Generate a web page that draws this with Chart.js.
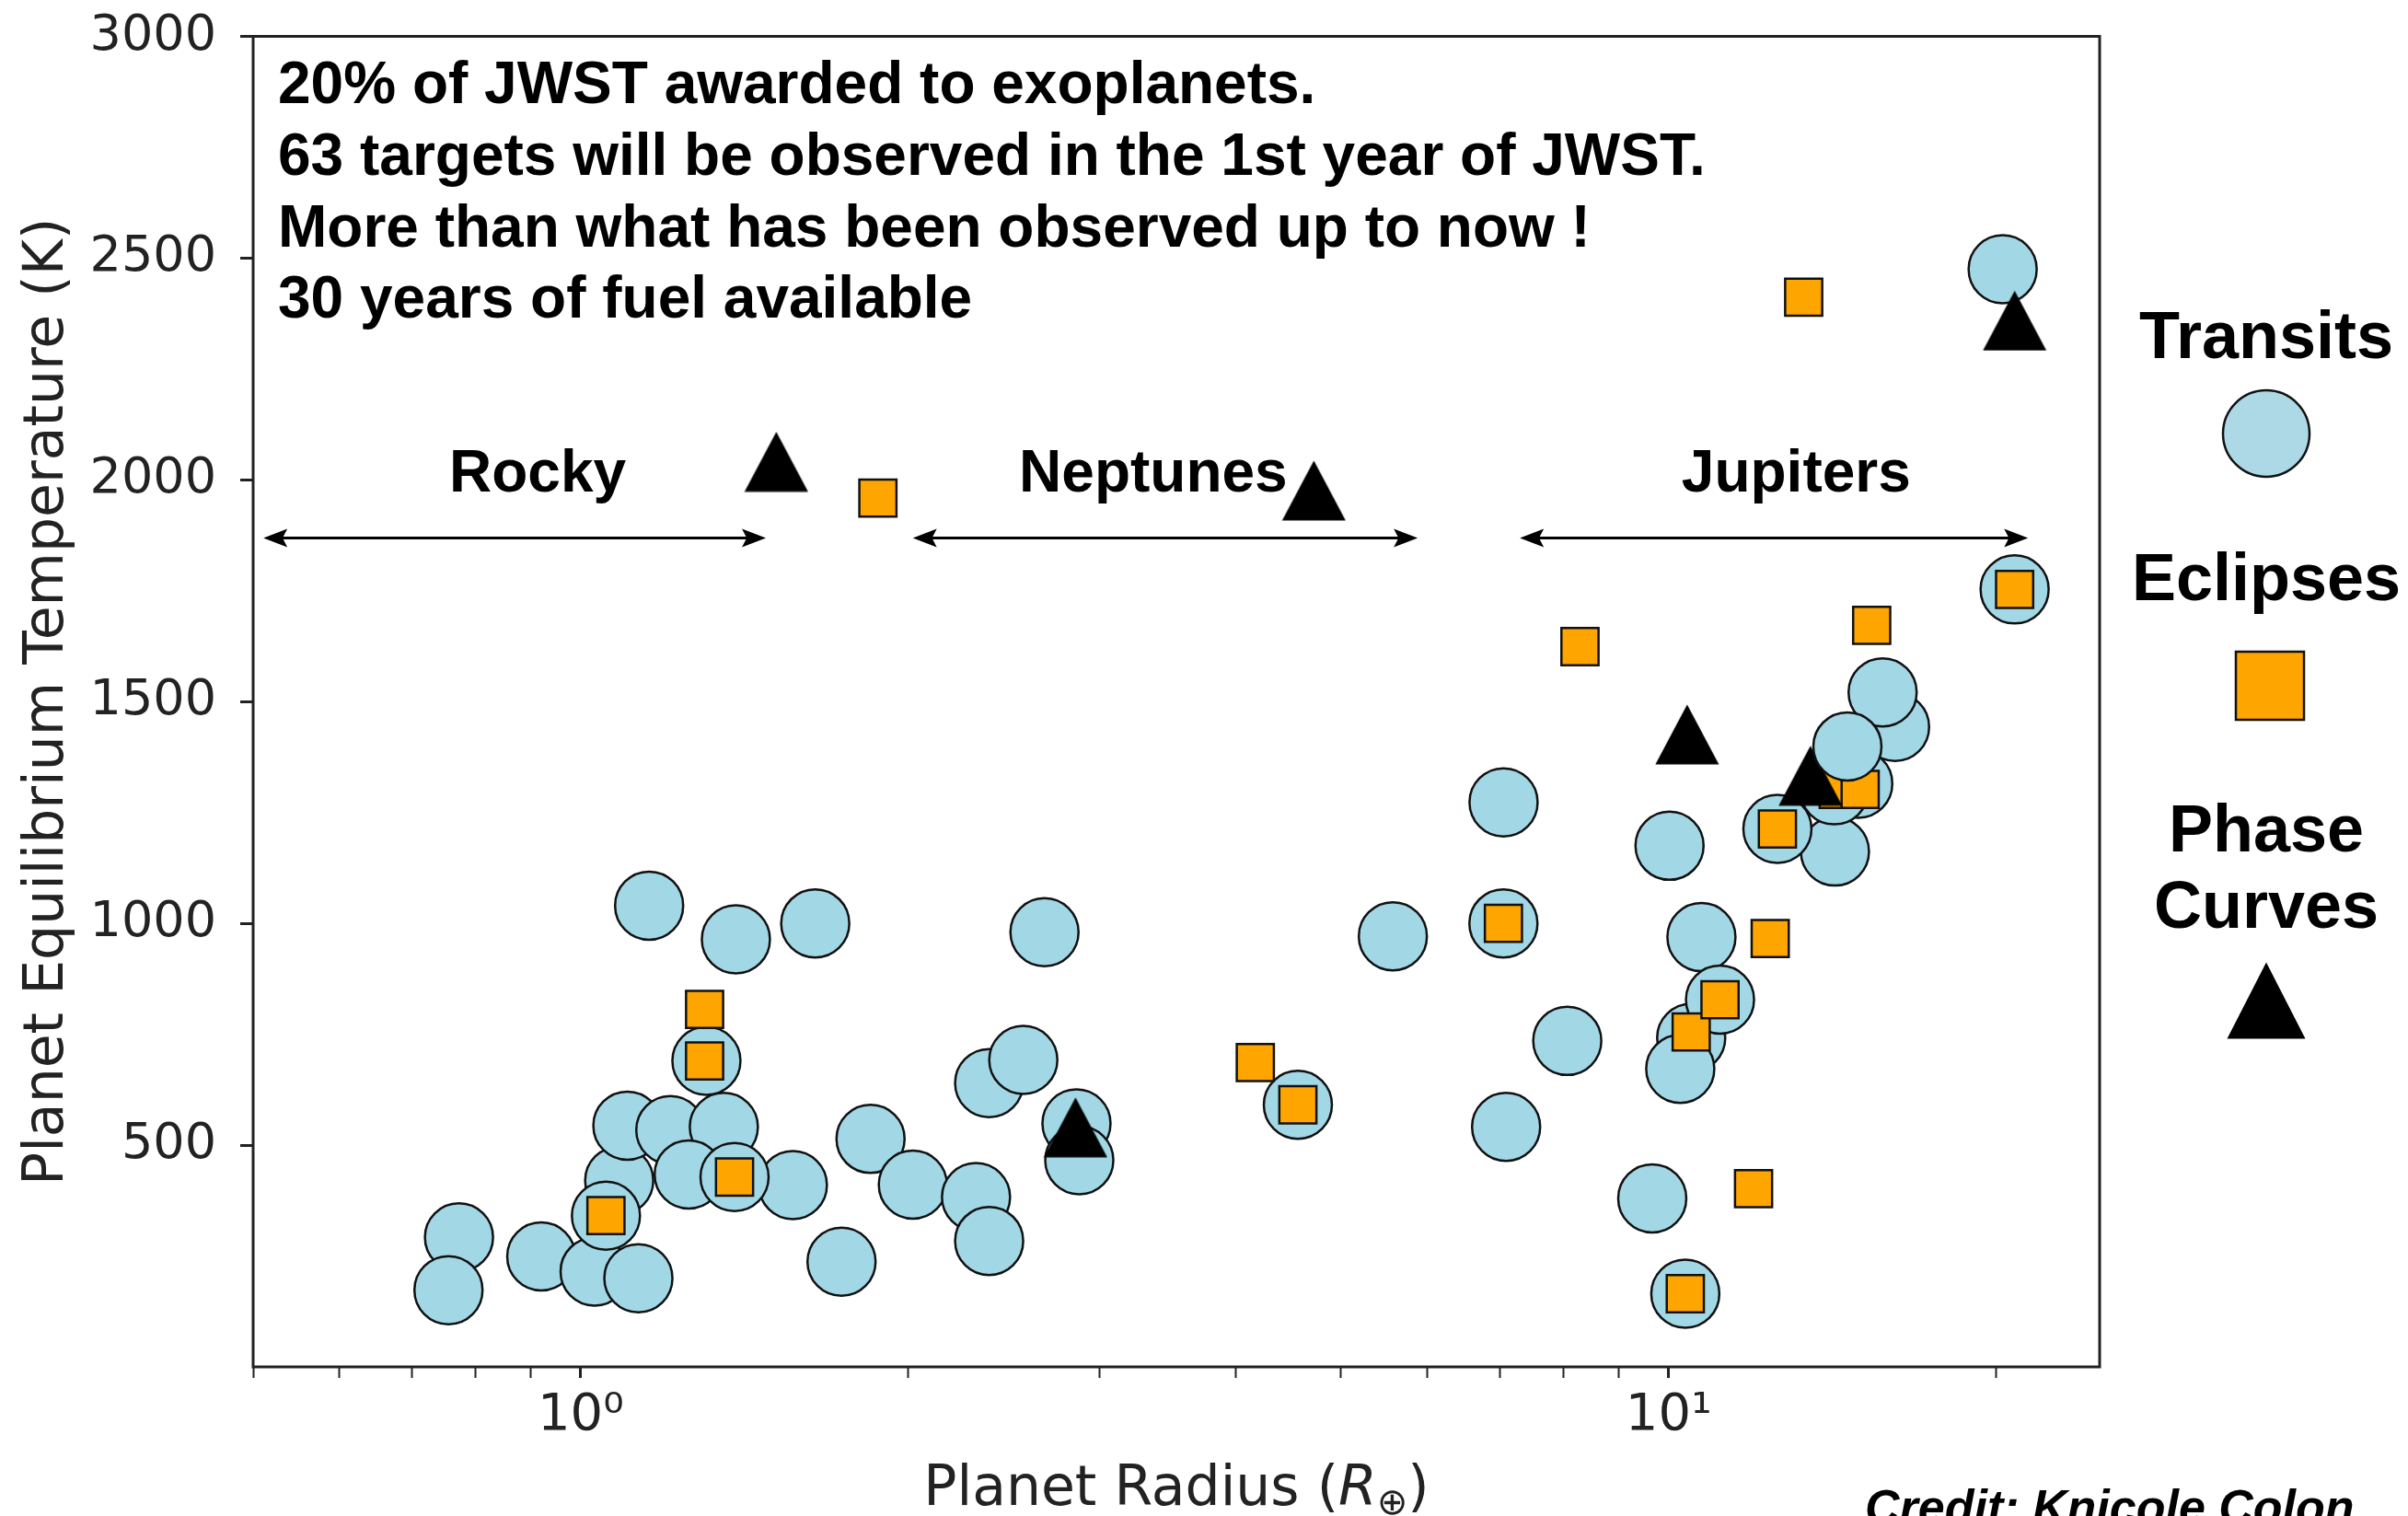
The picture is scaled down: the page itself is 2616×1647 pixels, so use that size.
<!DOCTYPE html>
<html>
<head>
<meta charset="utf-8">
<title>JWST exoplanet targets</title>
<script src="https://cdn.jsdelivr.net/npm/chart.js@4.4.1/dist/chart.umd.min.js"></script>
<style>
  html, body { margin: 0; padding: 0; background: #ffffff; }
  #wrap { width: 2616px; height: 1647px; }
</style>
</head>
<body>
<div id="wrap"><canvas id="planets" width="2616" height="1647"></canvas></div>
<script>
// Planet radius (Earth radii) and equilibrium temperature (K)
const transitRadius = [0.773, 0.756, 0.920, 1.03, 1.13, 1.085, 1.055, 1.156, 1.389, 1.643,
  1.305, 1.104, 1.209, 1.354, 1.567, 1.257, 1.385, 1.737, 1.847, 2.02,
  2.309, 2.374, 2.374, 2.552, 2.669, 2.856, 2.873, 4.563, 5.579, 7.052,
  7.05, 7.09, 8.07, 9.66, 10.02, 10.72, 10.49, 11.15, 10.25, 10.36,
  14.22, 12.59, 16.15, 15.73, 14.94, 14.2, 20.28, 20.8];
const transitTemp = [292, 173, 249, 215, 200, 420, 341, 1040, 964, 1000,
  690, 544, 534, 541, 410, 434, 428, 237, 514, 411,
  383, 284, 640, 692, 980, 549, 466, 591, 971, 1273,
  1000, 541, 735, 380, 1175, 969, 742, 828, 672, 165,
  1162, 1213, 1443, 1521, 1315, 1300, 2475, 1753];

// transit circles that sit in front of the other markers
const transitFrontRadius = [14.6];
const transitFrontTemp = [1399];

const eclipseRadius = [1.055, 1.30, 1.30, 1.385, 1.876, 4.17, 4.563, 7.05, 8.29, 10.36,
  10.49, 11.15, 11.97, 12.4, 12.59, 13.31, 14.32, 15.0, 15.37, 20.8];
const eclipseTemp = [341, 806, 690, 428, 1959, 686, 591, 1000, 1624, 165,
  755, 828, 402, 966, 1213, 2412, 1302, 1302, 1672, 1753];

const phaseRadius = [1.513, 4.72, 2.85, 10.40, 13.5, 20.8];
const phaseTemp = [2041, 1976, 540, 1426, 1333, 2359];

const xTickValues = [0.5, 0.6, 0.7, 0.8, 0.9, 1, 2, 3, 4, 5, 6, 7, 8, 9, 10, 20];
const xTickLabels = { 1: '10\u2070', 10: '10\u00b9' };
const yTickValues = [500, 1000, 1500, 2000, 2500, 3000];

const headline = [
  '20% of JWST awarded to exoplanets.',
  '63 targets will be observed in the 1st year of JWST.',
  'More than what has been observed up to now !',
  '30 years of fuel available'
];

// size classes: arrow span and label anchor, in data units
const regionNames = ['Rocky', 'Neptunes', 'Jupiters'];
const regionFrom = [0.511, 2.02, 7.30];
const regionTo = [1.48, 5.88, 21.4];
const regionLabelAt = [0.913, 3.36, 13.1];
const regionArrowTemp = 1869;
const regionLabelTemp = 1974;

const BLUE = '#a2d7e5';
const ORANGE = '#ffa500';
const EDGE = '#111111';
const INK = '#222222';

const toPoints = (xs, ys) => xs.map((x, i) => ({ x: x, y: ys[i] }));

function triangleSprite(w, h) {
  const c = document.createElement('canvas');
  c.width = w;
  c.height = h;
  const g = c.getContext('2d');
  g.beginPath();
  g.moveTo(w / 2, 0.5);
  g.lineTo(w - 0.5, h - 0.5);
  g.lineTo(0.5, h - 0.5);
  g.closePath();
  g.fillStyle = '#000';
  g.fill();
  return c;
}

function drawTriangle(ctx, cx, cy, w, h) {
  ctx.beginPath();
  ctx.moveTo(cx, cy - h / 2);
  ctx.lineTo(cx + w / 2, cy + h / 2);
  ctx.lineTo(cx - w / 2, cy + h / 2);
  ctx.closePath();
  ctx.fill();
}

function drawArrow(ctx, x1, x2, y) {
  const head = 26, half = 10;
  ctx.beginPath();
  ctx.moveTo(x1 + head * 0.6, y);
  ctx.lineTo(x2 - head * 0.6, y);
  ctx.stroke();
  [[x1, 1], [x2, -1]].forEach(([x, dir]) => {
    ctx.beginPath();
    ctx.moveTo(x, y);
    ctx.lineTo(x + dir * head, y - half);
    ctx.lineTo(x + dir * head * 0.8, y);
    ctx.lineTo(x + dir * head, y + half);
    ctx.closePath();
    ctx.fill();
  });
}

// frame, axis titles, annotations and the hand-made legend
const overlay = {
  id: 'overlay',
  afterDraw(chart) {
    const { ctx, chartArea: area, scales: { x, y } } = chart;
    ctx.save();

    // plot frame
    ctx.strokeStyle = INK;
    ctx.lineWidth = 3;
    ctx.strokeRect(area.left, area.top, area.right - area.left, area.bottom - area.top);

    // y title
    ctx.fillStyle = INK;
    ctx.save();
    ctx.translate(68, (area.top + area.bottom) / 2);
    ctx.rotate(-Math.PI / 2);
    ctx.font = '60px "DejaVu Sans"';
    ctx.textAlign = 'center';
    ctx.textBaseline = 'alphabetic';
    ctx.fillText('Planet Equilibrium Temperature (K)', 0, 0);
    ctx.restore();

    // x title with italic R and subscript earth symbol
    const parts = [
      { t: 'Planet Radius (', f: '60px "DejaVu Sans"', dy: 0 },
      { t: 'R', f: 'oblique 60px "DejaVu Sans"', dy: 0 },
      { t: '\u2295', f: '40px "DejaVu Sans"', dy: 10 },
      { t: ')', f: '60px "DejaVu Sans"', dy: 0 }
    ];
    let total = 0;
    parts.forEach(p => { ctx.font = p.f; p.w = ctx.measureText(p.t).width; total += p.w; });
    let px = (area.left + area.right) / 2 - total / 2;
    ctx.textAlign = 'left';
    parts.forEach(p => {
      ctx.font = p.f;
      ctx.fillText(p.t, px, 1635 + p.dy);
      px += p.w;
    });

    // headline
    ctx.fillStyle = '#000';
    ctx.font = 'bold 64px "Liberation Sans", Arial, sans-serif';
    headline.forEach((line, i) => ctx.fillText(line, 302, 112 + i * 77.8));

    // size classes
    ctx.textAlign = 'center';
    ctx.strokeStyle = '#000';
    ctx.lineWidth = 3;
    const yArrow = y.getPixelForValue(regionArrowTemp);
    const yLabel = y.getPixelForValue(regionLabelTemp);
    regionNames.forEach((name, i) => {
      ctx.fillText(name, x.getPixelForValue(regionLabelAt[i]), yLabel);
      drawArrow(ctx, x.getPixelForValue(regionFrom[i]), x.getPixelForValue(regionTo[i]), yArrow);
    });

    // legend
    const lx = 2462;
    ctx.font = 'bold 72px "Liberation Sans", Arial, sans-serif';
    ctx.fillText('Transits', lx, 389);
    ctx.fillText('Eclipses', lx, 652);
    ctx.fillText('Phase', lx, 925);
    ctx.fillText('Curves', lx, 1008);

    ctx.lineWidth = 2.5;
    ctx.strokeStyle = EDGE;
    ctx.beginPath();
    ctx.arc(lx, 471, 47, 0, Math.PI * 2);
    ctx.fillStyle = '#add8e6';
    ctx.fill();
    ctx.stroke();

    ctx.fillStyle = ORANGE;
    ctx.fillRect(lx + 4 - 37, 745 - 37, 74, 74);
    ctx.strokeRect(lx + 4 - 37, 745 - 37, 74, 74);

    ctx.fillStyle = '#000';
    drawTriangle(ctx, lx, 1087, 85, 83);

    // credit line, cut by the bottom edge as in the source
    ctx.textAlign = 'left';
    ctx.font = 'italic bold 52px "Liberation Sans", Arial, sans-serif';
    ctx.fillText('Credit: Knicole Colon', 2026, 1655);

    ctx.restore();
  }
};

const triangle = triangleSprite(70, 66);

new Chart(document.getElementById('planets'), {
  type: 'scatter',
  data: {
    datasets: [
      {
        label: 'Transits',
        data: toPoints(transitRadius, transitTemp),
        pointStyle: 'circle',
        pointRadius: 37,
        pointHoverRadius: 37,
        backgroundColor: BLUE,
        borderColor: EDGE,
        borderWidth: 2.5,
        order: 4
      },
      {
        label: 'Eclipses',
        data: toPoints(eclipseRadius, eclipseTemp),
        pointStyle: 'rect',
        pointRadius: 28.5,
        pointHoverRadius: 28.5,
        backgroundColor: ORANGE,
        borderColor: EDGE,
        borderWidth: 2.5,
        order: 3
      },
      {
        label: 'Phase Curves',
        data: toPoints(phaseRadius, phaseTemp),
        pointStyle: triangle,
        pointRadius: 33,
        pointHoverRadius: 33,
        order: 2
      },
      {
        label: 'Transits (front)',
        data: toPoints(transitFrontRadius, transitFrontTemp),
        pointStyle: 'circle',
        pointRadius: 37,
        pointHoverRadius: 37,
        backgroundColor: BLUE,
        borderColor: EDGE,
        borderWidth: 2.5,
        order: 1
      }
    ]
  },
  options: {
    responsive: false,
    devicePixelRatio: 1,
    animation: false,
    events: [],
    layout: { padding: { left: 0, top: 33, right: 335, bottom: 0 } },
    plugins: {
      legend: { display: false },
      tooltip: { enabled: false }
    },
    scales: {
      x: {
        type: 'logarithmic',
        min: 0.5,
        max: 24.9,
        afterBuildTicks: s => {
          s.ticks = xTickValues.map(v => ({ value: v, major: xTickLabels[v] !== undefined }));
        },
        afterFit: s => { s.height = 162; s.paddingLeft = 0; s.paddingRight = 0; },
        border: { display: false },
        grid: {
          drawOnChartArea: false,
          drawTicks: true,
          tickLength: 12,
          tickColor: INK,
          tickWidth: c => (c.tick && c.tick.major ? 3 : 2)
        },
        ticks: {
          autoSkip: false,
          maxRotation: 0,
          padding: 8,
          color: INK,
          font: { family: 'DejaVu Sans', size: 56 },
          callback: v => xTickLabels[v] || ''
        }
      },
      y: {
        type: 'linear',
        min: 0,
        max: 3000,
        afterBuildTicks: s => {
          s.ticks = yTickValues.map(v => ({ value: v }));
        },
        afterFit: s => { s.width = 275; s.paddingTop = 0; s.paddingBottom = 0; },
        border: { display: false },
        grid: {
          drawOnChartArea: false,
          tickLength: 14,
          tickWidth: 3,
          tickColor: INK
        },
        ticks: {
          padding: 26,
          color: INK,
          font: { family: 'DejaVu Sans', size: 54 },
          callback: v => String(v)
        }
      }
    }
  },
  plugins: [overlay]
});
</script>
</body>
</html>
